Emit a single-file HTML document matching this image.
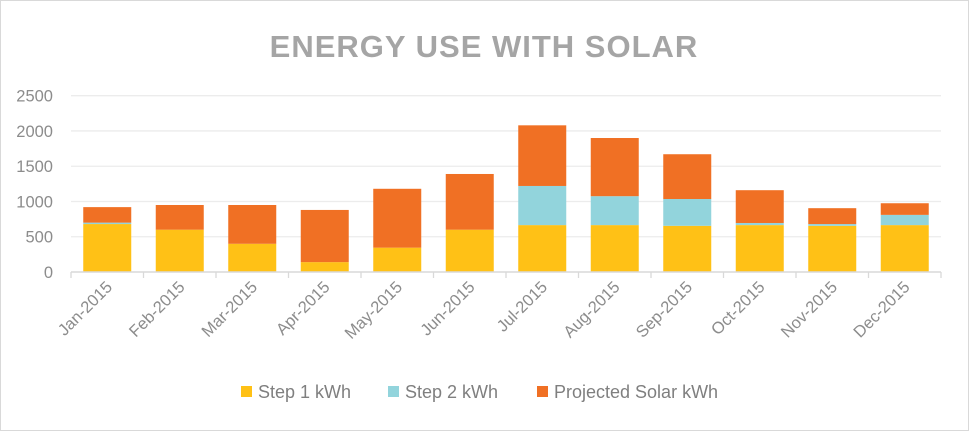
<!DOCTYPE html>
<html><head><meta charset="utf-8"><style>
body{margin:0;background:#fff;}
svg{display:block;font-family:"Liberation Sans",sans-serif;}
</style></head><body>
<svg id="chart" width="969" height="431">
<rect x="0.5" y="0.5" width="968" height="430" fill="#fff" stroke="#d9d9d9"/>
<text x="484" y="57" text-anchor="middle" font-size="31" font-weight="bold" fill="#a5a5a5" letter-spacing="1">ENERGY USE WITH SOLAR</text>
<g id="grid"></g><g id="bars"></g><g id="axes"></g>
<g>
<rect x="241" y="386" width="11" height="11" fill="#ffc116"/>
<text x="258" y="398" font-size="18" fill="#7f7f7f">Step 1 kWh</text>
<rect x="388" y="386" width="11" height="11" fill="#92d4dc"/>
<text x="405" y="398" font-size="18" fill="#7f7f7f">Step 2 kWh</text>
<rect x="537" y="386" width="11" height="11" fill="#f07024"/>
<text x="554" y="398" font-size="18" fill="#7f7f7f">Projected Solar kWh</text>
</g>
</svg>
<script>
const categories=["Jan-2015","Feb-2015","Mar-2015","Apr-2015","May-2015","Jun-2015","Jul-2015","Aug-2015","Sep-2015","Oct-2015","Nov-2015","Dec-2015"];
const step1=[680,600,400,140,345,600,665,665,655,665,655,665];
const step2=[20,0,0,0,0,0,555,410,380,30,25,145];
const solar=[220,350,550,740,835,790,860,825,635,465,225,165];
const yTicks=[0,500,1000,1500,2000,2500];
const NS="http://www.w3.org/2000/svg";
const x0=71,x1=941,y0=272,yTop=95.7,yMax=2500;
const band=(x1-x0)/categories.length,bw=48;
const y=v=>y0-(v/yMax)*(y0-yTop);
const xc=i=>x0+band*(i+0.5);
function mk(tag,attrs,parent){const e=document.createElementNS(NS,tag);for(const k in attrs)e.setAttribute(k,attrs[k]);parent.appendChild(e);return e;}
const grid=document.getElementById('grid'),bars=document.getElementById('bars'),axes=document.getElementById('axes');
yTicks.forEach(t=>{
 if(t>0){const l=mk('line',{x1:x0,x2:x1,y1:y(t),y2:y(t),stroke:'#ececec','stroke-width':1.3},grid);
 
 }
 const tx=mk('text',{x:53,y:y(t)+6,'text-anchor':'end','font-size':16.5,fill:'#8c8c8c'},axes);
 tx.textContent=t;
 
 
});
const series=[[step1,'#ffc116','step1'],[step2,'#92d4dc','step2'],[solar,'#f07024','solar']];
categories.forEach((c,i)=>{
 let base=0;
 series.forEach(([arr,col,nm])=>{
  const v=arr[i];if(v<=0)return;
  const r=mk('rect',{x:xc(i)-bw/2,y:y(base+v),width:bw,height:y(base)-y(base+v),fill:col},bars);
  
  
  base+=v;
 });
 const t=mk('line',{x1:x0+band*i,x2:x0+band*i,y1:y0,y2:y0+6,stroke:'#d9d9d9','stroke-width':1.3},axes);
 
 
 const lb=mk('text',{x:xc(i)+6,y:y0+16,'text-anchor':'end','font-size':16.5,fill:'#8c8c8c',transform:`rotate(-45 ${xc(i)+6} ${y0+16})`},axes);
 lb.textContent=c;
 
 
});
const lt=mk('line',{x1:x1,x2:x1,y1:y0,y2:y0+6,stroke:'#d9d9d9','stroke-width':1.3},axes);


const ax=mk('line',{x1:x0,x2:x1,y1:y0,y2:y0,stroke:'#d9d9d9','stroke-width':1.5},axes);


</script>
</body></html>
